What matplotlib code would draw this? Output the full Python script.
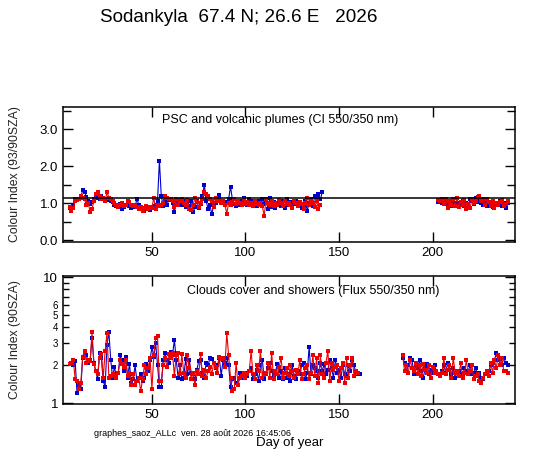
import numpy as np
import matplotlib
matplotlib.use('Agg')
import matplotlib.pyplot as plt
from matplotlib.ticker import FixedLocator, FuncFormatter

plt.rcParams['font.family'] = ['Liberation Sans', 'DejaVu Sans']

# ---- data: colour index, top panel (93/90 SZA) ----
ci_start1 = 6
ci_blue1 = [0.88, 0.85, 0.95, 1.12, 1.10, 1.12, 1.15, 1.35, 1.30, 1.18, 1.05, 0.98, 1.02, 1.10, 1.15,
            1.18, 1.12, 1.20, 1.15, 1.10, 1.12, 1.08, 1.05, 1.02, 0.95, 0.92, 0.95, 0.98, 0.85, 0.90,
            0.95, 1.00, 0.92, 0.88, 0.95, 0.90, 1.12, 0.95, 0.88, 0.85, 0.80, 0.85, 0.90, 0.82, 0.88,
            0.92, 0.95, 1.05, 2.15, 1.20, 0.92, 1.05, 0.95, 1.08, 1.10, 1.00, 0.75, 1.05, 1.00, 1.08,
            0.95, 1.05, 0.90, 1.00, 0.92, 1.05, 0.75, 0.90, 1.05, 0.88, 0.98, 1.20, 1.50, 1.05, 0.85,
            0.95, 0.70, 0.95, 1.00, 1.08, 1.22, 1.05, 1.00, 0.95, 1.02, 1.12, 1.45, 1.10, 0.98, 0.92,
            1.05, 0.95, 1.05, 1.15, 1.02, 0.95, 1.10, 1.05, 0.98, 1.00, 0.92, 1.05, 0.95, 1.10, 0.98,
            1.05, 0.85, 1.15, 0.90, 1.02, 0.88, 0.98, 1.00, 0.92, 1.05, 0.88, 1.10, 0.95, 1.02, 0.90,
            0.98, 1.05, 0.92, 1.00, 0.88, 0.95, 1.05, 0.80, 1.00, 1.10, 0.92, 1.20, 1.15, 1.25, 1.10,
            1.30]
ci_red1 = [0.90, 0.80, 0.88, 1.05, 1.08, 1.12, 1.20, 1.15, 1.10, 0.95, 1.00, 0.75, 0.85, 1.05, 1.25,
           1.30, 1.20, 1.10, 1.15, 1.05, 1.30, 1.15, 1.10, 1.05, 1.00, 0.95, 0.90, 0.95, 1.00, 0.92,
           0.95, 1.05, 1.02, 0.95, 0.92, 0.95, 0.90, 0.85, 0.90, 0.80, 0.88, 0.92, 0.85, 0.90, 0.88,
           1.15, 0.85, 0.95, 0.92, 0.95, 1.00, 1.20, 1.15, 1.10, 1.12, 1.05, 0.90, 1.10, 0.95, 1.05,
           1.10, 1.00, 0.95, 1.08, 0.85, 0.82, 0.95, 1.15, 1.02, 0.90, 1.00, 1.12, 1.30, 1.25, 1.20,
           1.10, 1.05, 0.90, 1.15, 1.05, 1.10, 1.00, 1.05, 0.95, 0.72, 1.00, 0.95, 1.02, 1.12, 0.98,
           1.05, 1.00, 0.95, 1.10, 0.98, 1.02, 0.95, 1.00, 0.92, 1.05, 0.98, 0.95, 1.00, 0.92, 0.65,
           1.12, 1.00, 0.95, 1.05, 0.92, 1.00, 0.95, 1.08, 1.00, 0.92, 1.05, 0.98, 1.00, 0.95, 0.88,
           1.05, 1.00, 0.92, 1.02, 0.98, 0.85, 1.00, 1.15, 0.95, 1.05, 1.00, 0.90, 1.05, 0.85, 0.95]
ci_start2 = 203
ci_blue2 = [1.02, 1.05, 1.00, 1.10, 1.05, 0.98, 1.02, 0.92, 1.05, 0.95, 1.00, 0.90, 0.98, 1.05, 0.92,
            1.00, 0.95, 1.10, 1.05, 0.98, 1.15, 1.02, 1.08, 1.00, 0.95, 1.05, 0.92, 1.00, 0.95, 0.90,
            0.98, 1.00, 0.95, 1.05, 0.92, 1.00, 0.88, 1.00]
ci_red2 = [1.08, 1.05, 1.10, 0.98, 1.12, 0.88, 1.05, 0.95, 1.10, 0.92, 1.15, 0.90, 1.02, 0.95, 1.08,
           0.85, 0.98, 0.88, 1.10, 1.00, 1.05, 1.18, 1.20, 1.05, 1.12, 0.95, 1.10, 1.02, 0.92, 1.05,
           0.88, 1.00, 0.95, 1.02, 1.08, 0.92, 0.98, 1.05]
ci_ref = 1.13

# ---- data: flux ratio, bottom panel (90 SZA) ----
fx_start1 = 6
fx_blue1 = [2.05, 2.1, 2.0, 2.15, 1.2, 1.4, 1.3, 2.3, 2.5, 2.4, 2.1, 2.2, 3.3, 2.1, 1.8,
            1.55, 2.5, 2.3, 1.5, 1.35, 2.9, 3.7, 2.2, 1.6, 1.95, 1.6, 1.75, 2.4, 2.2, 1.8,
            2.35, 1.6, 2.05, 1.45, 1.55, 2.0, 1.5, 1.6, 1.7, 1.5, 1.6, 2.05, 1.8, 2.2, 2.8,
            2.35, 3.0, 2.0, 1.35, 1.35, 2.2, 2.5, 2.2, 2.1, 2.55, 2.4, 3.2, 2.2, 1.6, 2.0,
            1.55, 1.6, 2.25, 1.7, 2.2, 1.75, 1.7, 1.55, 1.85, 2.15, 2.2, 1.75, 1.6, 2.1, 2.0,
            2.3, 2.25, 2.1, 1.9, 2.0, 2.3, 1.65, 2.2, 2.1, 2.3, 2.0, 1.35, 1.55, 1.6, 1.45,
            1.4, 1.75, 1.6, 1.7, 1.75, 1.65, 1.8, 1.9, 1.55, 1.7, 1.85, 1.5, 2.0, 2.2, 1.55,
            1.7, 1.9, 2.1, 1.8, 1.65, 1.75, 2.05, 1.6, 1.8, 1.55, 1.9, 1.6, 1.7, 1.5, 2.0,
            1.65, 1.55, 1.8, 1.7, 2.0, 2.1, 1.55, 1.75, 2.8, 1.7, 2.0, 1.9, 1.8, 1.6, 2.1,
            1.8, 2.05, 1.7, 1.85, 2.2, 1.9, 1.6, 2.2, 1.75, 1.85, 1.6, 2.0, 1.7, 1.65, 2.0,
            1.8, 2.2, 2.0, 1.75, 1.7, 1.7]
fx_red1 = [2.05, 2.1, 2.2, 1.55, 1.5, 1.3, 1.45, 2.35, 2.6, 2.1, 2.2, 2.15, 3.7, 2.05, 1.8,
           1.7, 2.3, 2.45, 1.6, 2.6, 3.6, 1.6, 1.65, 1.7, 1.65, 1.6, 1.75, 2.2, 2.05, 1.95,
           2.2, 1.65, 1.75, 1.4, 1.7, 1.4, 1.5, 1.6, 1.25, 1.55, 2.0, 1.7, 1.9, 2.3, 1.3,
           2.4, 3.3, 3.4, 1.5, 1.5, 2.0, 2.3, 1.95, 2.45, 2.3, 2.5, 1.65, 2.4, 2.5, 1.7,
           2.45, 1.75, 1.6, 2.4, 1.9, 1.55, 1.75, 1.4, 1.8, 1.7, 2.45, 1.65, 1.85, 1.6, 1.8,
           1.95, 1.7, 2.1, 1.95, 1.75, 2.35, 2.25, 2.3, 1.95, 3.6, 2.4, 1.6, 1.25, 1.3, 2.1,
           1.4, 1.6, 1.65, 1.75, 1.6, 1.7, 1.8, 2.6, 1.7, 1.55, 2.0, 1.8, 2.6, 1.6, 1.75,
           1.7, 2.1, 1.6, 2.5, 1.55, 1.8, 1.7, 1.95, 2.3, 1.6, 1.75, 1.9, 1.65, 2.0, 1.8,
           1.6, 1.85, 1.7, 2.2, 1.55, 1.7, 1.9, 2.0, 1.55, 1.75, 2.4, 1.65, 2.3, 1.45, 2.4,
           1.7, 1.6, 2.1, 2.6, 1.5, 2.1, 1.85, 1.95, 2.0, 1.5, 1.9, 2.1, 1.45, 2.3, 1.6,
           2.0, 2.3, 1.65, 1.8, 1.75]
fx_start2 = 184
fx_blue2 = [2.3, 2.1, 1.8, 2.0, 2.3, 2.2, 1.7, 2.0, 1.9, 2.2, 1.8, 1.6, 1.9, 2.05, 1.7,
            1.85, 1.75, 2.0, 1.8, 1.7, 1.65, 1.8, 2.0, 1.75, 2.1, 1.85, 1.7, 1.9, 1.6, 1.75,
            1.8, 1.7, 1.65, 1.9, 1.75, 1.8, 2.0, 1.7, 1.75, 1.9, 1.65, 1.75, 1.6, 1.55, 1.7,
            1.75, 1.8, 2.0, 2.1, 2.2, 2.5, 2.2, 2.3, 2.0, 2.3, 2.1, 2.0]
fx_red2 = [2.4, 1.8, 2.0, 1.75, 2.2, 1.9, 1.8, 2.1, 1.7, 2.0, 1.65, 2.05, 1.85, 1.75, 2.0,
           1.6, 1.95, 1.75, 1.8, 1.7, 1.65, 1.75, 2.3, 1.7, 1.85, 2.0, 1.6, 2.3, 1.75, 1.8,
           1.65, 2.1, 1.6, 1.75, 2.2, 1.7, 1.8, 2.0, 1.55, 1.65, 1.7, 1.5, 1.45, 1.6, 1.7,
           1.8, 1.65, 2.1, 1.75, 2.2, 1.9, 2.4, 2.0, 2.3, 1.8, 1.8, 1.75]

BLUE = '#0000cc'
RED = '#ee0000'


def plot_series(ax, start1, vals1, start2, vals2, color):
    for start, vals in ((start1, vals1), (start2, vals2)):
        days = np.arange(start, start + len(vals))
        ax.plot(days, vals, '-s', color=color, lw=0.8, ms=2.3, mew=0, mfc=color)


def style_axis(ax):
    ax.tick_params(which='both', direction='in', top=True, right=True, labelsize=9.5)
    ax.tick_params(which='major', length=7, width=1)
    ax.tick_params(which='minor', length=6, width=1)
    for s in ax.spines.values():
        s.set_linewidth(1.1)
    ax.set_xlim(2.5, 244)
    ax.set_xticks([50, 100, 150, 200])


fig = plt.figure(figsize=(5.47, 4.55), dpi=100)
fig.text(0.437, 0.962, 'Sodankyla  67.4 N; 26.6 E   2026', ha='center', va='center', fontsize=13.6)

# top panel
ax1 = fig.add_axes([0.1152, 0.4681, 0.8263, 0.2967])
plot_series(ax1, ci_start1, ci_blue1, ci_start2, ci_blue2, BLUE)
plot_series(ax1, ci_start1, ci_red1, ci_start2, ci_red2, RED)
ax1.axhline(ci_ref, color='black', lw=1.1)
style_axis(ax1)
ax1.set_ylim(-0.05, 3.6)
ax1.yaxis.set_major_locator(FixedLocator([0, 1, 2, 3]))
ax1.yaxis.set_minor_locator(FixedLocator([0.5, 1.5, 2.5, 3.5]))
ax1.yaxis.set_major_formatter(FuncFormatter(lambda v, p: f'{v:.1f}'))
ax1.set_ylabel('Colour Index (93/90SZA)', fontsize=8.8, color='#222222')
ax1.yaxis.set_label_coords(-0.094, 0.5)
ax1.text(0.48, 0.905, 'PSC and volcanic plumes (CI 550/350 nm)', transform=ax1.transAxes,
         ha='center', va='center', fontsize=9)

# bottom panel
ax2 = fig.add_axes([0.1152, 0.1121, 0.8263, 0.2813])
plot_series(ax2, fx_start1, fx_blue1, fx_start2, fx_blue2, BLUE)
plot_series(ax2, fx_start1, fx_red1, fx_start2, fx_red2, RED)
ax2.set_yscale('log')
style_axis(ax2)
ax2.set_ylim(0.99, 10.2)
ax2.yaxis.set_major_locator(FixedLocator([1, 10]))
ax2.yaxis.set_minor_locator(FixedLocator([2, 3, 4, 5, 6, 7, 8, 9]))
ax2.yaxis.set_major_formatter(FuncFormatter(lambda v, p: f'{v:g}'))
ax2.yaxis.set_minor_formatter(FuncFormatter(lambda v, p: f'{v:g}' if v <= 6 else ''))
ax2.tick_params(axis='y', which='minor', labelsize=7, length=4)
ax2.set_ylabel('Colour Index (90SZA)', fontsize=8.8, color='#222222')
ax2.yaxis.set_label_coords(-0.094, 0.5)
ax2.text(0.554, 0.885, 'Clouds cover and showers (Flux 550/350 nm)', transform=ax2.transAxes,
         ha='center', va='center', fontsize=9)

fig.text(0.172, 0.048, 'graphes_saoz_ALLc  ven. 28 août 2026 16:45:06', ha='left', va='center', fontsize=6.5)
fig.text(0.53, 0.027, 'Day of year', ha='center', va='center', fontsize=9.5)

fig.savefig('out.png', dpi=100)
